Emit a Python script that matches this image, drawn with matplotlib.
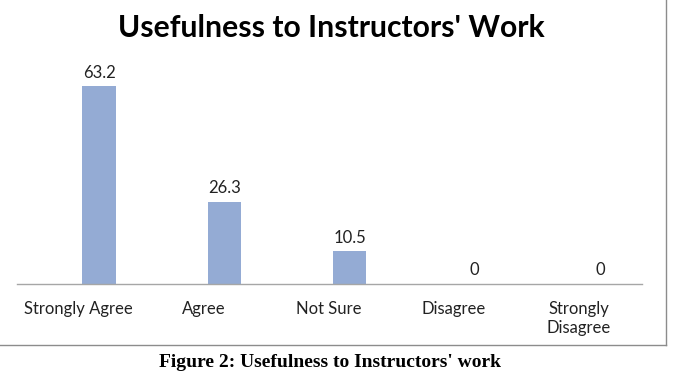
import matplotlib
matplotlib.use("Agg")
import matplotlib.pyplot as plt
from matplotlib.lines import Line2D
from matplotlib.transforms import ScaledTranslation

categories = ["Strongly Agree", "Agree", "Not Sure", "Disagree", "Strongly\nDisagree"]
values = [63.2, 26.3, 10.5, 0, 0]
value_labels = ["63.2", "26.3", "10.5", "0", "0"]

plt.rcParams["font.family"] = ["Lato", "DejaVu Sans"]

fig = plt.figure(figsize=(6.88, 3.72), dpi=100)
W, H = 688, 372

# axes: baseline at y=284 px, axis line from x=17 to x=642
ax = fig.add_axes([17 / W, (H - 284) / H, 625 / W, 219 / H])
x = list(range(len(categories)))
ax.bar(x, values, width=0.265, color="#94abd4")
ax.set_xlim(-0.655, 4.335)
ax.set_ylim(0, 70)

for xi, v, lab in zip(x, values, value_labels):
    ax.annotate(lab, (xi, v), xytext=(0, 4), textcoords="offset points",
                ha="center", va="bottom", fontsize=12, color="#222222")

ax.set_xticks(x)
ax.set_xticklabels(categories, fontsize=12, color="#222222", linespacing=1.25)
ax.tick_params(axis="x", length=0, pad=12)
# category labels sit a little left of the bars, as in the original
shift = ScaledTranslation(-21 / 100, 0, fig.dpi_scale_trans)
for t in ax.get_xticklabels():
    t.set_transform(t.get_transform() + shift)
ax.set_yticks([])
for s in ["top", "right", "left"]:
    ax.spines[s].set_visible(False)
ax.spines["bottom"].set_color("#a6a6a6")
ax.spines["bottom"].set_linewidth(1)

fig.text(331 / W, 1 - 37 / H, "Usefulness to Instructors' Work", ha="center", va="baseline",
         fontsize=21.7, fontweight="bold", color="#000000")

# chart border (bottom and right edges visible)
fig.add_artist(Line2D([0, 666 / W], [1 - 345 / H, 1 - 345 / H], color="#8c8c8c", lw=1))
fig.add_artist(Line2D([666 / W, 666 / W], [1 - 345 / H, 1], color="#8c8c8c", lw=1))

# caption below chart
fig.text(330 / W, 1 / H, "Figure 2: Usefulness to Instructors' work", ha="center", va="bottom",
         fontsize=14, fontweight="bold", family="Liberation Serif", color="#000000")

fig.savefig("out.png", dpi=100)
